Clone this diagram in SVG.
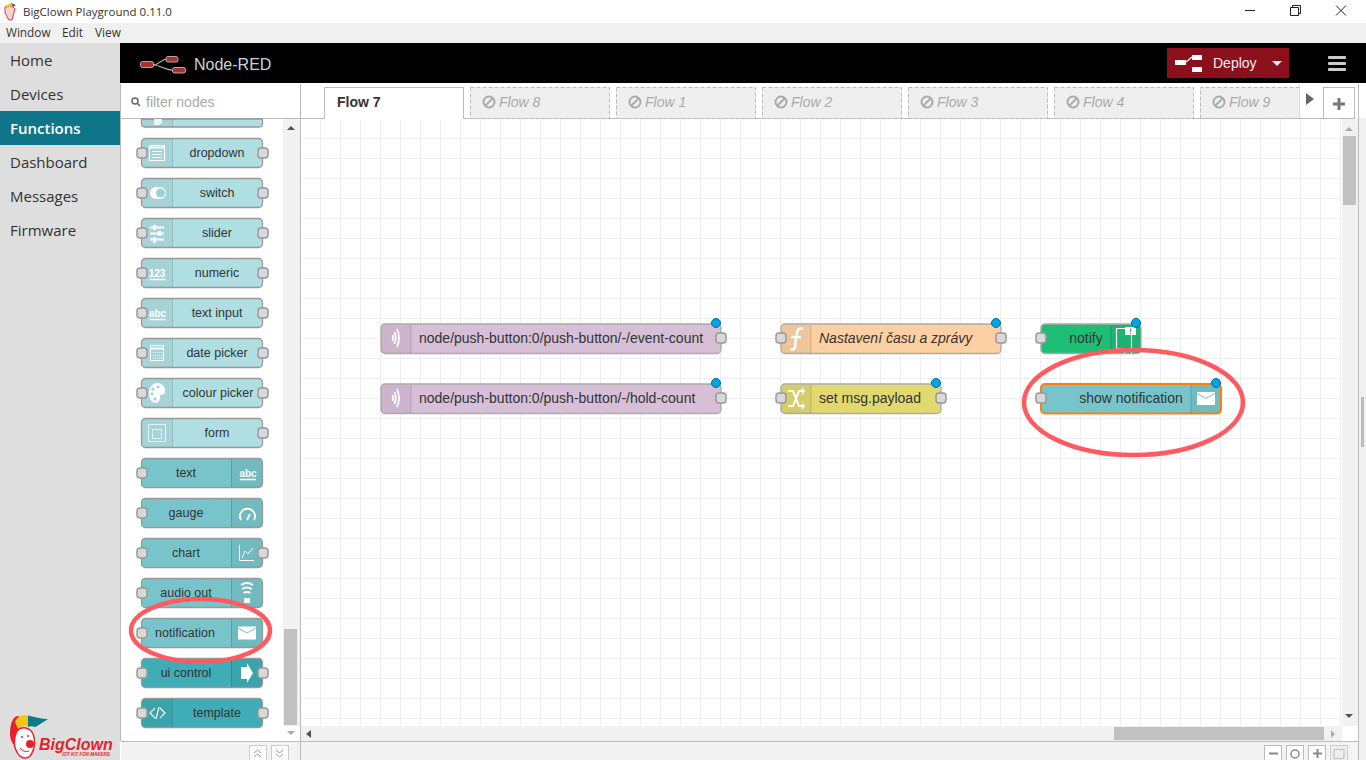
<svg xmlns="http://www.w3.org/2000/svg" width="1366" height="760" viewBox="0 0 1366 760">
<style>
text{font-family:"Liberation Sans",Arial,sans-serif;fill:#333;font-size:14px}
.os{font-family:"Open Sans","Noto Sans",sans-serif}
.nav{font-size:15px;fill:#333}
.n{stroke:#999;stroke-width:1.3}
.p{fill:#d9d9d9;stroke:#999;stroke-width:1.5}
.ic{fill:#000;fill-opacity:.05}
.sep{stroke:#000;stroke-opacity:.15;stroke-width:1}
.w{fill:#fff}
.wl{fill:none;stroke:#fff;stroke-width:1.800}
.c{text-anchor:middle;font-size:12.500px}
.lab{font-size:14px}
.dot{fill:#00a5e8;stroke:#006d9c;stroke-width:1}
.tab{fill:#efefef;stroke:#bbb;stroke-dasharray:4 2}
.tt{font-size:14px;font-style:italic;fill:#aaa}
.ban{fill:none;stroke:#aaa;stroke-width:2}
.ring{fill:none;stroke:#ff5a5f;stroke-width:4.500}
.grid{stroke:#eee;stroke-width:1;fill:none}
</style>
<defs>
<pattern id="g" x="320" y="118" width="20" height="20" patternUnits="userSpaceOnUse"><path class="grid" d="M.5 0V20M0 .5H20"/></pattern>
<g id="env"><rect x="-9" y="-6.500" width="18" height="13" class="w"/><path d="M-9-5 0 0 9-5" fill="none" stroke="#74c5cb" stroke-width="1"/></g>
</defs>
<rect width="1366" height="760" fill="#fff"/>
<g id="titlebar">
<rect width="1366" height="23" fill="#fff"/>
<path d="M5 7 12 6 15 9 12 20 9 20 5 13Z" fill="#f3d3d3" stroke="#e8343c"/><path d="M5 6 11 3 13 6 8 7Z" fill="#f6c413"/><path d="M11 3 16 5 13 7Z" fill="#0f7a8c"/>
<text x="23" y="16" style="font-size:11.500px" class="os" fill="#222">BigClown Playground 0.11.0</text>
<path d="M1245 10.500H1255" stroke="#222" fill="none"/>
<path d="M1290.500 7.500h8v8h-8zM1292.500 7.500v-2h8v8h-2" stroke="#222" fill="none"/>
<path d="M1336 5.500l10 10M1346 5.500l-10 10" stroke="#222" fill="none"/>
<rect y="23" width="1366" height="20" fill="#f0f0f0"/>
<text x="6" y="37" style="font-size:11.800px" class="os">Window</text>
<text x="62" y="37" style="font-size:11.800px" class="os">Edit</text>
<text x="95" y="37" style="font-size:11.800px" class="os">View</text>
</g>
<g id="sidebar">
<rect y="43" width="120" height="717" fill="#dedede"/>
<rect y="111" width="120" height="34" fill="#0e7688"/>
<text x="10" y="66" class="os nav">Home</text>
<text x="10" y="100" class="os nav">Devices</text>
<text x="10" y="134" class="os nav" style="fill:#fff;font-weight:600">Functions</text>
<text x="10" y="168" class="os nav">Dashboard</text>
<text x="10" y="202" class="os nav">Messages</text>
<text x="10" y="236" class="os nav">Firmware</text>
<g id="logo">
<path d="M10 733C10 722 14 716 18 716 21 717 21 726 19 732L14 745C11 742 10 738 10 733Z" fill="#e5222b"/>
<path d="M15 722C17 716 24 714 29 716L29 727C25 725 21 726 18 729Z" fill="#f6c413"/>
<path d="M28 715.500C35 717 41 719 48 719 43 722 38 726 35 727 33 726 30 726 28 727Z" fill="#0f7a8c"/>
<path d="M17 731C21 726 28 727 32 732 36 739 35 750 30 756 26 760 20 758 17 752 13 746 14 737 17 731Z" fill="#fff" stroke="#e5222b" stroke-width="1.500"/>
<circle cx="30" cy="744" r="4" fill="#e5222b"/>
<path d="M20 748Q24 753 29 751" fill="none" stroke="#e5222b"/>
<circle cx="22" cy="737" r="1" fill="#e5222b"/><circle cx="28" cy="736" r="1" fill="#e5222b"/>
<text x="39" y="750" style="font-size:16px;font-weight:700;font-style:italic;fill:#e5222b">BigClown</text>
<text x="86" y="756" text-anchor="middle" style="font-size:4.500px;font-weight:700;font-style:italic;fill:#e5222b">IOT KIT FOR MAKERS</text>
</g>
</g>
<g id="header">
<rect x="120" y="43" width="1246" height="40" fill="#000"/>
<path d="M153 65C160 65 160 59 168 59M153 65C160 65 165 70 172 70" fill="none" stroke="#bbb" stroke-width="1.200"/>
<rect x="140.500" y="61.500" width="13" height="6" rx="2" fill="#a83232" stroke="#ccc" stroke-width=".8"/>
<rect x="166" y="56.500" width="12" height="5.500" rx="2" fill="#a83232" stroke="#ccc" stroke-width=".8"/>
<rect x="172.500" y="67.500" width="13" height="5.500" rx="2" fill="#a83232" stroke="#ccc" stroke-width=".8"/>
<text x="194" y="70" style="font-size:16px;fill:#d1d1d1">Node-RED</text>
<rect x="1167" y="48" width="122" height="30" fill="#8c101c"/>
<rect x="1175" y="60" width="11" height="5" class="w"/><path d="M1186 62 1192 57" stroke="#fff" stroke-width="1.200"/>
<rect x="1192" y="55" width="10" height="5" class="w"/><rect x="1192" y="67" width="10" height="5" class="w"/>
<text x="1213" y="68" style="font-size:14px;fill:#eee">Deploy</text>
<path d="M1272 61h10l-5 5z" fill="#eee"/>
<rect x="1328" y="56" width="18" height="3" rx="1" fill="#ccc"/><rect x="1328" y="62" width="18" height="3" rx="1" fill="#ccc"/><rect x="1328" y="68" width="18" height="3" rx="1" fill="#ccc"/>
</g>
<g id="workspace">
<rect x="301" y="118" width="1041" height="608" fill="url(#g)"/>
<rect x="1342" y="118" width="16" height="608" fill="#f1f1f1"/>
<rect x="1343" y="136" width="13" height="69" fill="#c1c1c1"/>
<path d="M1345 131l4-4 4 4z" fill="#aaa"/><path d="M1345 714h8l-4 4z" fill="#505050"/>
<rect x="301" y="726" width="1041" height="15" fill="#f1f1f1"/>
<rect x="1114" y="727" width="210" height="13" fill="#c1c1c1"/>
<path d="M311 730v8l-5-4z" fill="#505050"/><path d="M1331 730v8l4-4z" fill="#aaa"/>
<rect x="1358" y="118" width="8" height="642" fill="#f0f0f0"/>
<rect x="1361" y="397" width="3" height="50" fill="#bbb"/>
<rect x="301" y="741" width="1057" height="19" fill="#f3f3f3"/>
<path d="M300.500 741.500H1358.500M1358.500 84V760" stroke="#bbb" fill="none"/>
<g fill="#fff" stroke="#bbb">
<rect x="1264.500" y="745.500" width="17" height="16"/><rect x="1286.500" y="745.500" width="17" height="16"/><rect x="1308.500" y="745.500" width="17" height="16"/></g>
<rect x="1330.500" y="745.500" width="17" height="16" fill="#eee" stroke="#ccc"/>
<path d="M1269 753.500h9M1313 753.500h9M1317.500 749v9" stroke="#888" stroke-width="2" fill="none"/>
<circle cx="1295" cy="754" r="4" fill="none" stroke="#888" stroke-width="1.500"/>
<path d="M1334 750l3-1 3 1 4-1v9l-4 1-3-1-3 1z" fill="none" stroke="#bbb"/>
</g>
<g id="tabs">
<rect x="300" y="84" width="1050" height="34" fill="#fff"/>
<path d="M300.500 118.500H1342" stroke="#bbb" fill="none"/>
<path d="M324.500 118.500V87.500H463.500V118.500" fill="#fff" stroke="#bbb"/><rect x="325" y="117" width="138" height="3" fill="#fff"/>
<text x="337" y="107" style="font-weight:700;font-size:14px">Flow 7</text>
<rect class="tab" x="470.500" y="87.500" width="139" height="31"/>
<rect class="tab" x="616.500" y="87.500" width="139" height="31"/>
<rect class="tab" x="762.500" y="87.500" width="139" height="31"/>
<rect class="tab" x="908.500" y="87.500" width="139" height="31"/>
<rect class="tab" x="1054.500" y="87.500" width="139" height="31"/>
<rect x="1200" y="88" width="99" height="30" fill="#efefef"/><path d="M1200.500 118.500V87.500H1299" fill="none" stroke="#bbb" stroke-dasharray="4 2"/>
<path d="M1299.500 84V118" stroke="#ddd"/>
<g class="ban"><circle cx="489" cy="102" r="5.500"/><path d="M485 106 493 98"/><circle cx="635" cy="102" r="5.500"/><path d="M631 106 639 98"/><circle cx="781" cy="102" r="5.500"/><path d="M777 106 785 98"/><circle cx="927" cy="102" r="5.500"/><path d="M923 106 931 98"/><circle cx="1073" cy="102" r="5.500"/><path d="M1069 106 1077 98"/><circle cx="1219" cy="102" r="5.500"/><path d="M1215 106 1223 98"/></g>
<text class="tt" x="499" y="107">Flow 8</text><text class="tt" x="645" y="107">Flow 1</text><text class="tt" x="791" y="107">Flow 2</text><text class="tt" x="937" y="107">Flow 3</text><text class="tt" x="1083" y="107">Flow 4</text><text class="tt" x="1229" y="107">Flow 9</text>
<path d="M1306 93l8 6-8 6z" fill="#666"/>
<rect x="1323.500" y="87.500" width="31" height="31" fill="#fff" stroke="#bbb"/>
<path d="M1333 104h12M1339 98v12" stroke="#777" stroke-width="3" fill="none"/>
</g>
<g id="palette">
<rect x="121" y="84" width="179" height="34" fill="#fff"/>
<path d="M120.500 84V741M120.500 118.500H300M300.500 84V760" stroke="#bbb" fill="none"/>
<circle cx="135" cy="101" r="3" fill="none" stroke="#666" stroke-width="1.500"/><path d="M137 103 140 106" stroke="#666" stroke-width="1.500"/>
<text x="146" y="107" style="font-size:14px;fill:#aaa">filter nodes</text>
<rect x="283" y="119" width="17" height="607" fill="#f1f1f1"/>
<rect x="284" y="629" width="13" height="96" fill="#c1c1c1"/>
<path d="M287 130l4-4 4 4z" fill="#505050"/><path d="M287 731h8l-4 4z" fill="#aaa"/>
<rect x="121" y="741" width="179" height="19" fill="#f3f3f3"/><path d="M121 741.500H300" stroke="#bbb"/>
<rect x="249.500" y="745.500" width="17" height="16" fill="#fff" stroke="#ccc"/><rect x="271.500" y="745.500" width="17" height="16" fill="#fff" stroke="#ccc"/>
<path d="M254 753l3.500-3 3.500 3M254 757l3.500-3 3.500 3M276 750l3.500 3 3.500-3M276 754l3.500 3 3.500-3" fill="none" stroke="#999"/>
<g id="p-clip">
<path d="M141.500 119V124a3 3 0 0 0 3 3H259.500a3 3 0 0 0 3-3V119Z" fill="#afdfe3" class="n"/><path d="M142 119V124a3 3 0 0 0 3 3H172V119Z" class="ic"/><path d="M172.500 119V127" class="sep"/>
<path d="M154 119H162V123L159 125H154Z" class="w" opacity=".8"/>
</g>
<g id="p-dropdown"><rect x="141.500" y="138.500" width="121" height="29" rx="4" fill="#afdfe3" class="n"/><path d="M142 142a3 3 0 0 1 3-3H172V167H145a3 3 0 0 1-3-3Z" class="ic"/><path d="M172.500 139V167" class="sep"/><rect x="137" y="148" width="10" height="10" rx="3" class="p"/><rect x="258" y="148" width="10" height="10" rx="3" class="p"/><rect x="149.500" y="145.500" width="15" height="15" fill="none" stroke="#fff"/><path d="M150 147.500H164" stroke="#fff" stroke-width="2"/><path d="M152 151.500H162M152 154.500H162M152 157.500H162" stroke="#fff"/><text class="c" x="217" y="157">dropdown</text></g>
<g id="p-switch"><rect x="141.500" y="178.500" width="121" height="29" rx="4" fill="#afdfe3" class="n"/><path d="M142 182a3 3 0 0 1 3-3H172V207H145a3 3 0 0 1-3-3Z" class="ic"/><path d="M172.500 179V207" class="sep"/><rect x="137" y="188" width="10" height="10" rx="3" class="p"/><rect x="258" y="188" width="10" height="10" rx="3" class="p"/><rect x="150" y="187" width="16" height="12" rx="6" class="w"/><circle cx="160.500" cy="193" r="4.500" fill="#9fd0d5"/><text class="c" x="217" y="197">switch</text></g>
<g id="p-slider"><rect x="141.500" y="218.500" width="121" height="29" rx="4" fill="#afdfe3" class="n"/><path d="M142 222a3 3 0 0 1 3-3H172V247H145a3 3 0 0 1-3-3Z" class="ic"/><path d="M172.500 219V247" class="sep"/><rect x="137" y="228" width="10" height="10" rx="3" class="p"/><rect x="258" y="228" width="10" height="10" rx="3" class="p"/><path d="M150 227.500H164M150 233.500H164M150 239.500H164" stroke="#fff" stroke-width="1.800"/><rect x="153" y="225" width="3" height="5" class="w"/><rect x="158" y="231" width="3" height="5" class="w"/><rect x="153" y="237" width="3" height="6" class="w"/><text class="c" x="217" y="237">slider</text></g>
<g id="p-numeric"><rect x="141.500" y="258.500" width="121" height="29" rx="4" fill="#afdfe3" class="n"/><path d="M142 262a3 3 0 0 1 3-3H172V287H145a3 3 0 0 1-3-3Z" class="ic"/><path d="M172.500 259V287" class="sep"/><rect x="137" y="268" width="10" height="10" rx="3" class="p"/><rect x="258" y="268" width="10" height="10" rx="3" class="p"/><text x="157" y="277" text-anchor="middle" style="font-size:10px;font-weight:700;fill:#fff">123</text><path d="M149.500 279.500H165.500" stroke="#fff" stroke-width="1.500"/><text class="c" x="217" y="277">numeric</text></g>
<g id="p-textinput"><rect x="141.500" y="298.500" width="121" height="29" rx="4" fill="#afdfe3" class="n"/><path d="M142 302a3 3 0 0 1 3-3H172V327H145a3 3 0 0 1-3-3Z" class="ic"/><path d="M172.500 299V327" class="sep"/><rect x="137" y="308" width="10" height="10" rx="3" class="p"/><rect x="258" y="308" width="10" height="10" rx="3" class="p"/><text x="157.500" y="317" text-anchor="middle" style="font-size:10px;font-weight:700;fill:#fff">abc</text><path d="M149.500 319.500H165.500" stroke="#fff" stroke-width="1.500"/><text class="c" x="217" y="317">text input</text></g>
<g id="p-date"><rect x="141.500" y="338.500" width="121" height="29" rx="4" fill="#afdfe3" class="n"/><path d="M142 342a3 3 0 0 1 3-3H172V367H145a3 3 0 0 1-3-3Z" class="ic"/><path d="M172.500 339V367" class="sep"/><rect x="137" y="348" width="10" height="10" rx="3" class="p"/><rect x="258" y="348" width="10" height="10" rx="3" class="p"/><rect x="150.500" y="345.500" width="13" height="15" fill="none" stroke="#fff"/><path d="M150 348.500H164" stroke="#fff" stroke-width="2"/><path d="M153 352.500H162M153 355.500H162M153 358H162" stroke="#fff" stroke-dasharray="1 1"/><text class="c" x="217" y="357">date picker</text></g>
<g id="p-colour"><rect x="141.500" y="378.500" width="121" height="29" rx="4" fill="#afdfe3" class="n"/><path d="M142 382a3 3 0 0 1 3-3H172V407H145a3 3 0 0 1-3-3Z" class="ic"/><path d="M172.500 379V407" class="sep"/><rect x="137" y="388" width="10" height="10" rx="3" class="p"/><rect x="258" y="388" width="10" height="10" rx="3" class="p"/><path d="M158 383C164 384 166 389 165 393 163 396 160 393 160 397 160 401 158 403 155 403 151 402 148 397 149 391 150 386 153 383 158 383Z" class="w"/><circle cx="153" cy="389" r="1.500" fill="#9fd0d5"/><circle cx="158" cy="387" r="1.500" fill="#9fd0d5"/><circle cx="152" cy="394" r="1.500" fill="#9fd0d5"/><circle cx="155" cy="399" r="1.500" fill="#9fd0d5"/><text class="c" x="218" y="397">colour picker</text></g>
<g id="p-form"><rect x="141.500" y="418.500" width="121" height="29" rx="4" fill="#afdfe3" class="n"/><path d="M142 422a3 3 0 0 1 3-3H172V447H145a3 3 0 0 1-3-3Z" class="ic"/><path d="M172.500 419V447" class="sep"/><rect x="258" y="428" width="10" height="10" rx="3" class="p"/><rect x="148.500" y="424.500" width="17" height="17" fill="none" stroke="#fff" stroke-opacity=".7"/><rect x="152.500" y="429.500" width="9" height="9" fill="none" stroke="#fff" stroke-opacity=".7"/><text class="c" x="217" y="437">form</text></g>
<g id="p-text"><rect x="141.500" y="458.500" width="121" height="29" rx="4" fill="#77c5cb" class="n"/><path d="M231 459H259a3 3 0 0 1 3 3V484a3 3 0 0 1-3 3H231Z" class="ic"/><path d="M231.500 459V487" class="sep"/><rect x="137" y="468" width="10" height="10" rx="3" class="p"/><text x="248" y="477" text-anchor="middle" style="font-size:10px;font-weight:700;fill:#fff">abc</text><path d="M240 479.500H256" stroke="#fff" stroke-width="1.500"/><text class="c" x="186" y="477">text</text></g>
<g id="p-gauge"><rect x="141.500" y="498.500" width="121" height="29" rx="4" fill="#77c5cb" class="n"/><path d="M231 499H259a3 3 0 0 1 3 3V524a3 3 0 0 1-3 3H231Z" class="ic"/><path d="M231.500 499V527" class="sep"/><rect x="137" y="508" width="10" height="10" rx="3" class="p"/><path d="M241 520A7.500 7.500 0 1 1 254 520" class="wl"/><path d="M247 520 250 514" stroke="#fff" stroke-width="1.800"/><text class="c" x="186" y="517">gauge</text></g>
<g id="p-chart"><rect x="141.500" y="538.500" width="121" height="29" rx="4" fill="#77c5cb" class="n"/><path d="M231 539H259a3 3 0 0 1 3 3V564a3 3 0 0 1-3 3H231Z" class="ic"/><path d="M231.500 539V567" class="sep"/><rect x="137" y="548" width="10" height="10" rx="3" class="p"/><rect x="258" y="548" width="10" height="10" rx="3" class="p"/><path d="M239.500 545V560.500H254M242 558 245 551 248 554 253 548" fill="none" stroke="#fff"/><text class="c" x="186" y="557">chart</text></g>
<g id="p-audio"><rect x="141.500" y="578.500" width="121" height="29" rx="4" fill="#77c5cb" class="n"/><path d="M231 579H259a3 3 0 0 1 3 3V604a3 3 0 0 1-3 3H231Z" class="ic"/><path d="M231.500 579V607" class="sep"/><rect x="137" y="588" width="10" height="10" rx="3" class="p"/><rect x="244" y="598" width="6" height="5" class="w"/><path d="M241 585Q247 581 253 585M242 589Q247 586 252 589M243.500 593Q247 591 250.500 593" class="wl"/><text class="c" x="186" y="597">audio out</text></g>
<g id="p-notification"><rect x="141.500" y="618.500" width="121" height="29" rx="4" fill="#77c5cb" class="n"/><path d="M231 619H259a3 3 0 0 1 3 3V644a3 3 0 0 1-3 3H231Z" class="ic"/><path d="M231.500 619V647" class="sep"/><rect x="137" y="628" width="10" height="10" rx="3" class="p"/><use href="#env" x="247" y="633"/><text class="c" x="185" y="637">notification</text></g>
<g id="p-uicontrol"><rect x="141.500" y="658.500" width="121" height="29" rx="4" fill="#3eadb7" class="n"/><path d="M231 659H259a3 3 0 0 1 3 3V684a3 3 0 0 1-3 3H231Z" class="ic"/><path d="M231.500 659V687" class="sep"/><rect x="137" y="668" width="10" height="10" rx="3" class="p"/><rect x="258" y="668" width="10" height="10" rx="3" class="p"/><path d="M241 667H247V663L253 673 247 683V679H241Z" class="w"/><text class="c" x="186" y="677">ui control</text></g>
<g id="p-template"><rect x="141.500" y="698.500" width="121" height="29" rx="4" fill="#3eadb7" class="n"/><path d="M142 702a3 3 0 0 1 3-3H172V727H145a3 3 0 0 1-3-3Z" class="ic"/><path d="M172.500 699V727" class="sep"/><rect x="137" y="708" width="10" height="10" rx="3" class="p"/><rect x="258" y="708" width="10" height="10" rx="3" class="p"/><path d="M155 708 150 713 155 718M160 708 165 713 160 718M159 707 156 719" fill="none" stroke="#fff" stroke-width="1.200"/><text class="c" x="217" y="717">template</text></g>
</g>
<g id="connectors"></g>
<g id="n-event"><rect x="381" y="324" width="340" height="29.500" rx="4" fill="#d7bfd7" stroke="#aaa" stroke-width="1.300"/><path d="M381.500 328a3 3 0 0 1 3-3H411V353H384.500a3 3 0 0 1-3-3Z" class="ic"/><path d="M411 325V353" class="sep"/><path d="M392.500 335Q394 338 392.500 341M394.500 332Q397 338 394.500 344M397 329Q401 338 397 347" class="wl"/><rect x="716" y="333" width="10" height="10" rx="3" class="p"/><circle cx="716" cy="323" r="4.500" class="dot"/><text class="lab" x="419" y="343">node/push-button:0/push-button/-/event-count</text></g>
<g id="n-hold"><rect x="381" y="384" width="340" height="29.500" rx="4" fill="#d7bfd7" stroke="#aaa" stroke-width="1.300"/><path d="M381.500 388a3 3 0 0 1 3-3H411V413H384.500a3 3 0 0 1-3-3Z" class="ic"/><path d="M411 385V413" class="sep"/><path d="M392.500 395Q394 398 392.500 401M394.500 392Q397 398 394.500 404M397 389Q401 398 397 407" class="wl"/><rect x="716" y="393" width="10" height="10" rx="3" class="p"/><circle cx="716" cy="383" r="4.500" class="dot"/><text class="lab" x="419" y="403">node/push-button:0/push-button/-/hold-count</text></g>
<g id="n-func"><rect x="781" y="324" width="220" height="29.500" rx="4" fill="#fdd0a2" stroke="#aaa" stroke-width="1.300"/><path d="M781.500 328a3 3 0 0 1 3-3H811V353H784.500a3 3 0 0 1-3-3Z" class="ic"/><path d="M811 325V353" class="sep"/><path d="M803 329C798 327 797 331 796.500 336L795 347C794 350 792 350 790.500 349M791 337H801" fill="none" stroke="#fff" stroke-width="2.500"/><rect x="776" y="333" width="10" height="10" rx="3" class="p"/><rect x="996" y="333" width="10" height="10" rx="3" class="p"/><circle cx="996" cy="323" r="4.500" class="dot"/><text class="lab" x="819" y="343" style="font-style:italic">Nastavení času a zprávy</text></g>
<g id="n-change"><rect x="781" y="384" width="160" height="29.500" rx="4" fill="#e2d96e" stroke="#aaa" stroke-width="1.300"/><path d="M781.500 388a3 3 0 0 1 3-3H811V413H784.500a3 3 0 0 1-3-3Z" class="ic"/><path d="M811 385V413" class="sep"/><path d="M788 391H793L799 406H803M788 406H793L799 391H803" fill="none" stroke="#fff" stroke-width="2"/><path d="M802 387 805 391 802 395ZM802 402 805 406 802 410Z" class="w"/><rect x="776" y="393" width="10" height="10" rx="3" class="p"/><rect x="936" y="393" width="10" height="10" rx="3" class="p"/><circle cx="936" cy="383" r="4.500" class="dot"/><text class="lab" x="819" y="403">set msg.payload</text></g>
<g id="n-notify"><rect x="1041" y="324" width="100" height="29.500" rx="4" fill="#1ebe76" stroke="#aaa" stroke-width="1.300"/><path d="M1111 325H1137.500a3 3 0 0 1 3 3V350a3 3 0 0 1-3 3H1111Z" class="ic"/><path d="M1111 325V353" class="sep"/><rect x="1036" y="333" width="10" height="10" rx="3" class="p"/><path d="M1116.500 353V328.500H1126M1131.500 335V353M1116 348.500H1132M1124.500 348V353" fill="none" stroke="#fff" stroke-width="1.200"/><rect x="1125" y="327" width="11" height="8" class="w"/><path d="M1130.500 328.500V332M1130.500 333V334" stroke="#1ebe76"/><circle cx="1136" cy="323" r="4.500" class="dot"/><text class="lab" x="1086" y="343" text-anchor="middle">notify</text></g>
<g id="n-show"><rect x="1041" y="384" width="180" height="29.500" rx="4" fill="#77c5cb" stroke="#ff7f0e" stroke-width="2"/><path d="M1191 385H1217.500a3 3 0 0 1 3 3V410a3 3 0 0 1-3 3H1191Z" class="ic"/><path d="M1191 385V413" class="sep"/><rect x="1036" y="393" width="10" height="10" rx="3" class="p"/><use href="#env" x="1206" y="398.500"/><circle cx="1216" cy="383" r="4.500" class="dot"/><text class="lab" x="1131" y="403" text-anchor="middle">show notification</text></g>
<g id="annotations">
<ellipse cx="1133.500" cy="402.500" rx="109.500" ry="52.500" class="ring"/>
<ellipse cx="200.500" cy="630.500" rx="69.500" ry="31.500" class="ring"/>
</g>
</svg>
